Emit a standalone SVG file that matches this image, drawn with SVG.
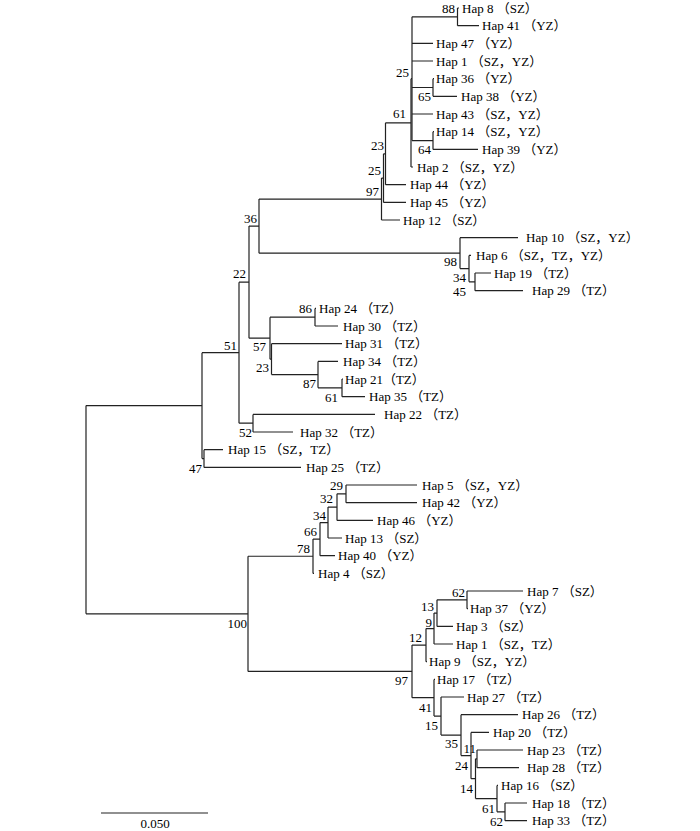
<svg xmlns="http://www.w3.org/2000/svg" width="700" height="831" viewBox="0 0 700 831">
<style>
.br{fill:none;stroke:#222;stroke-width:1.2}
text{font-family:'Liberation Serif','Noto Sans CJK SC',serif;font-size:13px;fill:#000}
.bs{text-anchor:end}
.sc{text-anchor:middle}
</style>
<rect width="700" height="831" fill="#fff"/>
<g id="branches" class="br">
<path d="M86 405.6V613.8M86 405.6H202M86 613.8H248"/>
<path d="M202 352.7V458.55M202 352.7H239M202 458.55H204"/>
<path d="M239 282.15V423.2M239 282.15H249M239 423.2H253"/>
<path d="M249 226.1V338.2M249 226.1H259M249 338.2H270"/>
<path d="M259 199.05V253.15M259 199.05H381.5M259 253.15H460"/>
<path d="M381.5 178.1V220M381.5 178.1H383.5M381.5 220H400"/>
<path d="M383.5 153.8V202.4M383.5 153.8H385.5M383.5 202.4H406"/>
<path d="M385.5 122.85V184.7M385.5 122.85H411M385.5 184.7H406"/>
<path d="M411 78.7V167M411 78.7H412M411 167H413"/>
<path d="M412 16.85V140.55M412 16.85H457.5M412 43.3H433M412 61H433M412 87.5H433M412 114H433M412 140.55H433"/>
<path d="M457.5 8V25.7M457.5 8H459M457.5 25.7H479"/>
<path d="M433 78.7V96.3M433 78.7H434M433 96.3H457"/>
<path d="M433 131.7V149.4M433 131.7H434M433 149.4H478"/>
<path d="M460 237.7V268.6M460 237.7H518M460 268.6H469"/>
<path d="M469 255.4V281.85M469 255.4H471M469 281.85H475"/>
<path d="M475 273V290.7M475 273H491M475 290.7H523"/>
<path d="M270 317.2V359.15M270 317.2H315M270 359.15H271.5"/>
<path d="M315 308.4V326M315 308.4H316M315 326H338"/>
<path d="M271.5 343.7V374.6M271.5 343.7H342M271.5 374.6H318"/>
<path d="M318 361.4V387.85M318 361.4H338M318 387.85H342"/>
<path d="M342 379V396.7M342 379H343M342 396.7H365"/>
<path d="M253 414.4V432M253 414.4H375M253 432H293"/>
<path d="M204 449.7V467.4M204 449.7H223M204 467.4H301"/>
<path d="M248 556.25V671.4M248 556.25H313M248 671.4H412"/>
<path d="M313 539.1V573.4M313 539.1H320M313 573.4H314"/>
<path d="M320 522.55V555.7M320 522.55H328M320 555.7H335"/>
<path d="M328 507.1V538M328 507.1H337M328 538H342"/>
<path d="M337 493.85V520.4M337 493.85H346M337 520.4H373"/>
<path d="M346 485V502.7M346 485H417M346 502.7H417"/>
<path d="M412 645.1V697.7M412 645.1H426M412 697.7H434"/>
<path d="M426 628.55V661.7M426 628.55H434M426 661.7H427"/>
<path d="M434 613.1V644M434 613.1H437M434 644H453"/>
<path d="M437 599.85V626.4M437 599.85H467M437 626.4H453"/>
<path d="M467 591V608.7M467 591H523M467 608.7H468"/>
<path d="M434 679.4V716.05M434 679.4H435M434 716.05H441"/>
<path d="M441 697V735.1M441 697H464M441 735.1H461"/>
<path d="M461 714.7V755.55M461 714.7H518M461 755.55H471"/>
<path d="M471 732.4V778.7M471 732.4H489M471 778.7H475.5"/>
<path d="M475.5 758.85V798.6M475.5 758.85H477M475.5 798.6H497"/>
<path d="M477 750V767.7M477 750H523M477 767.7H519"/>
<path d="M497 785.4V811.85M497 785.4H498M497 811.85H505"/>
<path d="M505 803V820.7M505 803H527M505 820.7H527"/>
</g>
<g id="support" class="bs">
<text x="455" y="13">88</text>
<text x="409" y="77">25</text>
<text x="431" y="101">65</text>
<text x="406" y="118">61</text>
<text x="431" y="154">64</text>
<text x="384" y="150">23</text>
<text x="381" y="175">25</text>
<text x="379" y="196">97</text>
<text x="257" y="223">36</text>
<text x="457" y="266">98</text>
<text x="466" y="282">34</text>
<text x="466" y="296">45</text>
<text x="246" y="278">22</text>
<text x="312" y="313">86</text>
<text x="237" y="350">51</text>
<text x="266" y="351">57</text>
<text x="269" y="372">23</text>
<text x="316" y="388">87</text>
<text x="338" y="402">61</text>
<text x="252" y="437">52</text>
<text x="202" y="473">47</text>
<text x="343" y="490">29</text>
<text x="333" y="503">32</text>
<text x="326" y="520">34</text>
<text x="317" y="536">66</text>
<text x="310" y="553">78</text>
<text x="247" y="628">100</text>
<text x="465" y="597">62</text>
<text x="434" y="611">13</text>
<text x="432" y="627">9</text>
<text x="422" y="642">12</text>
<text x="408" y="685">97</text>
<text x="432" y="712">41</text>
<text x="438" y="730">15</text>
<text x="458" y="748">35</text>
<text x="476" y="753">11</text>
<text x="468" y="770">24</text>
<text x="473" y="793">14</text>
<text x="495" y="813">61</text>
<text x="503" y="826">62</text>
</g>
<g id="leaves">
<g id="hap8"><text x="462" y="12.5">Hap 8 （SZ）</text></g>
<g id="hap41"><text x="482" y="30.2">Hap 41 （YZ）</text></g>
<g id="hap47"><text x="436" y="47.8">Hap 47 （YZ）</text></g>
<g id="hap1a"><text x="436" y="65.5">Hap 1 （SZ，YZ）</text></g>
<g id="hap36"><text x="436" y="83.2">Hap 36 （YZ）</text></g>
<g id="hap38"><text x="461" y="100.8">Hap 38 （YZ）</text></g>
<g id="hap43"><text x="436" y="118.5">Hap 43 （SZ，YZ）</text></g>
<g id="hap14"><text x="436" y="136.2">Hap 14 （SZ，YZ）</text></g>
<g id="hap39"><text x="482" y="153.9">Hap 39 （YZ）</text></g>
<g id="hap2"><text x="417" y="171.5">Hap 2 （SZ，YZ）</text></g>
<g id="hap44"><text x="410" y="189.2">Hap 44 （YZ）</text></g>
<g id="hap45"><text x="410" y="206.9">Hap 45 （YZ）</text></g>
<g id="hap12"><text x="403" y="224.5">Hap 12 （SZ）</text></g>
<g id="hap10"><text x="526" y="242.2">Hap 10 （SZ，YZ）</text></g>
<g id="hap6"><text x="476" y="259.9">Hap 6 （SZ，TZ，YZ）</text></g>
<g id="hap19"><text x="494" y="277.5">Hap 19 （TZ）</text></g>
<g id="hap29"><text x="532" y="295.2">Hap 29 （TZ）</text></g>
<g id="hap24"><text x="319" y="312.9">Hap 24 （TZ）</text></g>
<g id="hap30"><text x="343" y="330.5">Hap 30 （TZ）</text></g>
<g id="hap31"><text x="345" y="348.2">Hap 31 （TZ）</text></g>
<g id="hap34"><text x="343" y="365.9">Hap 34 （TZ）</text></g>
<g id="hap21"><text x="345" y="383.5">Hap 21（TZ）</text></g>
<g id="hap35"><text x="369" y="401.2">Hap 35 （TZ）</text></g>
<g id="hap22"><text x="384" y="418.9">Hap 22 （TZ）</text></g>
<g id="hap32"><text x="300" y="436.5">Hap 32 （TZ）</text></g>
<g id="hap15"><text x="228" y="454.2">Hap 15 （SZ，TZ）</text></g>
<g id="hap25"><text x="306" y="471.9">Hap 25 （TZ）</text></g>
<g id="hap5"><text x="422" y="489.5">Hap 5 （SZ，YZ）</text></g>
<g id="hap42"><text x="422" y="507.2">Hap 42 （YZ）</text></g>
<g id="hap46"><text x="377" y="524.9">Hap 46 （YZ）</text></g>
<g id="hap13"><text x="345" y="542.5">Hap 13 （SZ）</text></g>
<g id="hap40"><text x="338" y="560.2">Hap 40 （YZ）</text></g>
<g id="hap4"><text x="318" y="577.9">Hap 4 （SZ）</text></g>
<g id="hap7"><text x="527" y="595.5">Hap 7 （SZ）</text></g>
<g id="hap37"><text x="470" y="613.2">Hap 37 （YZ）</text></g>
<g id="hap3"><text x="456" y="630.9">Hap 3 （SZ）</text></g>
<g id="hap1b"><text x="456" y="648.5">Hap 1 （SZ，TZ）</text></g>
<g id="hap9"><text x="429" y="666.2">Hap 9 （SZ，YZ）</text></g>
<g id="hap17"><text x="437" y="683.9">Hap 17 （TZ）</text></g>
<g id="hap27"><text x="467" y="701.5">Hap 27 （TZ）</text></g>
<g id="hap26"><text x="522" y="719.2">Hap 26 （TZ）</text></g>
<g id="hap20"><text x="493" y="736.9">Hap 20 （TZ）</text></g>
<g id="hap23"><text x="527" y="754.5">Hap 23 （TZ）</text></g>
<g id="hap28"><text x="527" y="772.2">Hap 28 （TZ）</text></g>
<g id="hap16"><text x="501" y="789.9">Hap 16 （SZ）</text></g>
<g id="hap18"><text x="532" y="807.5">Hap 18 （TZ）</text></g>
<g id="hap33"><text x="532" y="825.2">Hap 33 （TZ）</text></g>
</g>
<g id="scale">
<path class="br" d="M101 813H208"/>
<text class="sc" x="155" y="828">0.050</text>
</g>
</svg>
